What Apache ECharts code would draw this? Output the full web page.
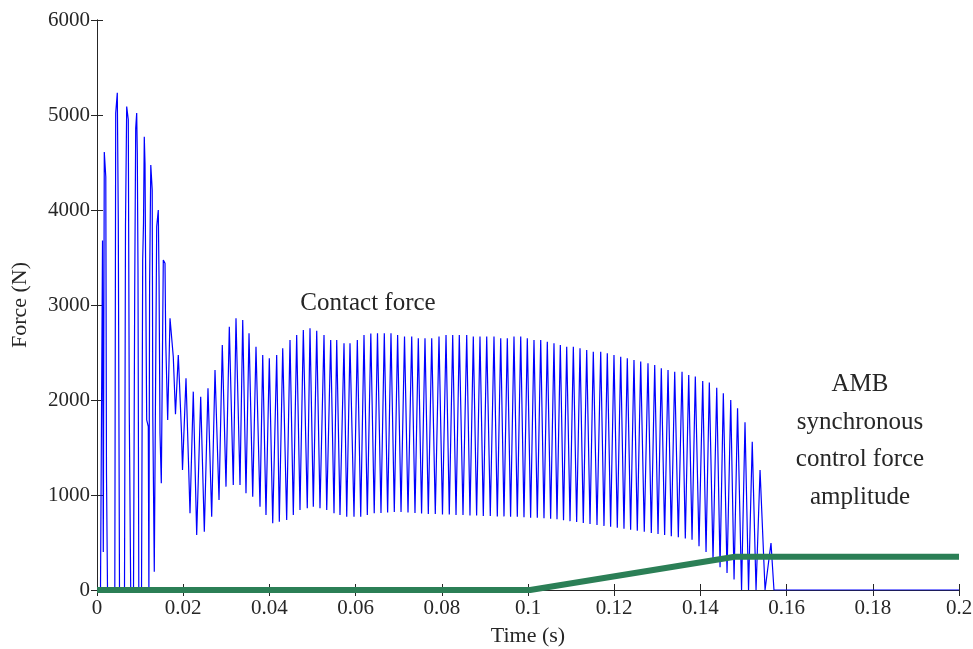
<!DOCTYPE html>
<html>
<head>
<meta charset="utf-8">
<title>Contact force / AMB control force</title>
<script src="https://cdn.jsdelivr.net/npm/echarts@6/dist/echarts.min.js"></script>
<style>
  html, body { margin: 0; padding: 0; background: #fff; }
  #chart { width: 973px; height: 649px; }
</style>
</head>
<body>
<div id="chart"></div>
<script>
// impact onset, vertices (ms, N)
var onsetMs = [0, 0.81, 1.28, 1.46, 1.69, 2.04, 2.20, 2.44, 4.13, 4.34, 4.71, 4.94, 5.22, 6.38, 6.61, 6.89,
    7.26, 7.49, 7.82, 8.47, 8.75, 8.98, 9.21, 9.35, 9.51, 9.70, 10.33, 10.60, 10.79, 10.97, 11.14, 11.30,
    11.53, 11.90, 12.04, 12.20, 12.48, 12.81, 12.95, 13.29, 13.85, 14.22, 14.39, 14.62, 14.92, 15.38,
    15.78, 15.94, 16.40, 16.94, 17.33, 17.70, 18.21, 18.86, 19.14, 19.61, 19.84];
var onsetN = [0, 0, 3680, 400, 4610, 4350, 1230, 0, 0, 5020, 5235, 3900, 0, 0, 3830, 5090,
    4950, 1860, 0, 0, 3160, 4860, 5020, 4600, 3370, 0, 0, 3470, 3860, 4770, 4490, 3260,
    1790, 1720, 0, 3190, 4474, 4210, 1820, 193, 3825, 4000, 3298, 1650, 1123, 3474,
    3440, 2632, 1790, 2860, 2840, 2456, 1850, 2474, 2175, 1649, 1263];

// steady rub: one peak and the following trough per cycle
var peakMs = [20.65, 22.34, 24.06, 25.75, 27.38, 29.07, 30.70, 32.25, 33.81, 35.27, 36.89, 38.45, 39.98,
    41.69, 43.09, 44.78, 46.33, 47.87, 49.42, 50.98, 52.67, 54.22, 55.62, 57.31, 58.70, 60.40, 61.95,
    63.53, 65.08, 66.66, 68.21, 69.75, 71.35, 73.02, 74.55, 76.10, 77.66, 79.35, 80.98, 82.53, 84.06,
    85.78, 87.31, 88.86, 90.42, 92.11, 93.67, 95.20, 96.75, 98.31, 99.84, 101.39, 102.95, 104.48,
    106.03, 107.50, 108.98, 110.52, 112.07, 113.62, 115.15, 116.87, 118.40, 119.95, 121.51, 123.04,
    124.59, 126.15, 127.84, 129.40, 130.93, 132.49, 134.04, 135.74, 137.29, 138.82, 140.54, 142.07,
    143.79, 145.32, 147.04, 148.62, 150.35, 152.03, 153.84, 156.38];
var peakN = [2228, 2088, 2035, 2123, 2316, 2579, 2772, 2860, 2842, 2702, 2561, 2474, 2439,
    2474, 2544, 2632, 2684, 2737, 2754, 2730, 2684, 2632, 2632, 2596, 2596, 2632, 2684,
    2700, 2702, 2702, 2702, 2684, 2667, 2667, 2649, 2649, 2649, 2667, 2684, 2684, 2684,
    2684, 2667, 2667, 2667, 2667, 2649, 2649, 2667, 2667, 2649, 2632, 2632, 2614,
    2596, 2579, 2561, 2561, 2544, 2526, 2509, 2509, 2491, 2474, 2456, 2439,
    2421, 2404, 2386, 2368, 2333, 2316, 2298, 2298, 2263, 2246, 2200, 2185,
    2130, 2070, 2000, 1912, 1765, 1561, 1263, 495];
var troughMs = [21.58, 23.13, 24.90, 26.61, 28.31, 29.93, 31.62, 33.18, 34.57, 36.13, 37.82, 39.21, 40.77,
    42.30, 44.01, 45.55, 47.10, 48.79, 50.19, 51.74, 53.30, 54.99, 56.38, 57.94, 59.63, 61.19, 62.72,
    64.32, 65.89, 67.43, 68.98, 70.54, 72.16, 73.78, 75.31, 76.87, 78.49, 80.16, 81.74, 83.30, 84.92,
    86.54, 88.08, 89.63, 91.25, 92.88, 94.43, 95.96, 97.52, 99.07, 100.61, 102.16, 103.71, 105.25,
    106.73, 108.24, 109.75, 111.29, 112.83, 114.39, 116.01, 117.63, 119.17, 120.72, 122.27, 123.81,
    125.36, 126.98, 128.61, 130.17, 131.70, 133.25, 134.88, 136.50, 138.06, 139.68, 141.31, 142.93,
    144.56, 146.18, 147.81, 149.55, 151.17, 152.91, 155.00, 157.07];
var troughN = [807, 579, 614, 772, 947, 1088, 1105, 1105, 1018, 982, 877, 789, 702,
    719, 737, 789, 842, 860, 877, 860, 842, 807, 789, 772, 772, 772, 789,
    807, 810, 815, 820, 820, 815, 810, 805, 800, 800, 795, 795, 790, 790,
    785, 785, 780, 780, 775, 775, 770, 770, 765, 760, 760, 755, 750,
    745, 735, 725, 715, 705, 695, 685, 675, 665, 655, 645, 635,
    625, 612, 600, 590, 578, 566, 555, 543, 530, 460, 400, 316,
    240, 180, 110, 0, 0, 0, 0, 0];
var tailMs = [200];
var tailN = [0];

// AMB synchronous control force amplitude
var ampMs = [0, 100.5, 148.0, 200];
var ampN = [0, 0, 350, 350];

var contact = [];
for (var i = 0; i < onsetMs.length; i++) {
    contact.push([onsetMs[i] / 1000, onsetN[i]]);
}
for (var j = 0; j < peakMs.length; j++) {
    contact.push([peakMs[j] / 1000, peakN[j]]);
    contact.push([troughMs[j] / 1000, troughN[j]]);
}
for (var k = 0; k < tailMs.length; k++) {
    contact.push([tailMs[k] / 1000, tailN[k]]);
}
var amb = ampMs.map(function(t, i) { return [t / 1000, ampN[i]]; });

var serif = "'Liberation Serif', 'Times New Roman', 'DejaVu Serif', serif";
var ink = '#262626';

var chart = echarts.init(document.getElementById('chart'));

// mirrored box axes (MATLAB style)
function xAx(pos, labels) {
    return {
        type: 'value', position: pos, min: 0, max: 0.2, interval: 0.02,
        name: labels ? 'Time (s)' : '', nameLocation: 'middle', nameGap: 35,
        nameTextStyle: { fontFamily: serif, fontSize: 22, color: ink },
        axisLine: { show: true, lineStyle: { color: ink, width: 1 } },
        axisTick: { show: true, inside: true, length: 6, lineStyle: { color: ink } },
        axisLabel: {
            show: labels, margin: 8, fontFamily: serif, fontSize: 21, color: ink,
            formatter: function(v) { return String(parseFloat(v.toFixed(2))); }
        },
        splitLine: { show: false }
    };
}
function yAx(pos, labels) {
    return {
        type: 'value', position: pos, min: 0, max: 6000, interval: 1000,
        name: labels ? 'Force (N)' : '', nameLocation: 'middle', nameGap: 66,
        nameTextStyle: { fontFamily: serif, fontSize: 22, color: ink },
        axisLine: { show: true, lineStyle: { color: ink, width: 1 } },
        axisTick: { show: true, inside: true, length: 6, lineStyle: { color: ink } },
        axisLabel: {
            show: labels, margin: 7, fontFamily: serif, fontSize: 21, color: ink,
            formatter: function(v) { return String(v); }
        },
        splitLine: { show: false }
    };
}

var option = {
    animation: false,
    backgroundColor: '#fff',
    grid: { left: 97, right: 14, top: 20, bottom: 59, containLabel: false, outerBoundsMode: 'none' },
    xAxis: [xAx('bottom', true), xAx('top', false)],
    yAxis: [yAx('left', true), yAx('right', false)],
    series: [{
        name: 'Contact force',
        type: 'line',
        data: contact,
        showSymbol: false,
        lineStyle: { color: '#0000ff', width: 1.2 },
        z: 2
    }, {
        name: 'AMB synchronous control force amplitude',
        type: 'line',
        data: amb,
        showSymbol: false,
        lineStyle: { color: '#2b7f56', width: 6 },
        z: 3
    }],
    graphic: [{
        type: 'text', x: 368, y: 303,
        style: {
            text: 'Contact force', font: '25px ' + serif, fill: ink,
            align: 'center', verticalAlign: 'middle'
        }
    }, {
        type: 'text', x: 860, y: 366,
        style: {
            text: 'AMB\nsynchronous\ncontrol force\namplitude',
            font: '25px ' + serif, fill: ink, align: 'center', verticalAlign: 'top', lineHeight: 37.5
        }
    }]
};

chart.setOption(option);
</script>
</body>
</html>
